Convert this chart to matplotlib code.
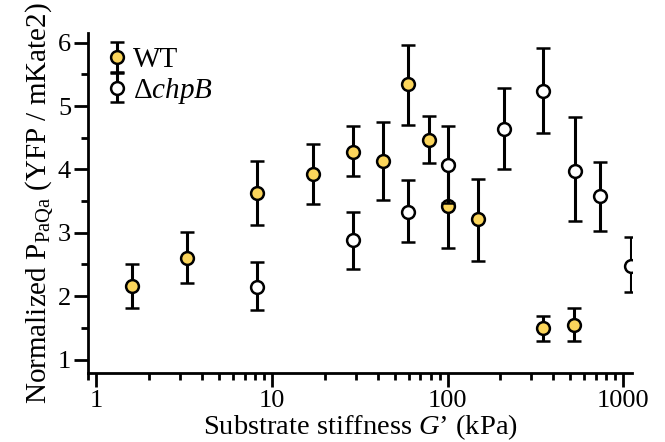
"""Normalized PaQa reporter vs substrate stiffness, WT vs chpB mutant."""
import matplotlib
matplotlib.use("Agg")
import matplotlib.pyplot as plt
from matplotlib.ticker import LogLocator, NullFormatter, MultipleLocator

plt.rcParams["font.family"] = ["Liberation Serif", "DejaVu Serif"]
plt.rcParams["mathtext.fontset"] = "custom"
plt.rcParams["mathtext.rm"] = "Liberation Serif"
plt.rcParams["mathtext.it"] = "Liberation Serif:italic"

# WT
wt_x = [1.6, 3.3, 8.2, 17.2, 28.8, 43, 59.7, 78.6, 100, 150, 350, 525]
wt_y = [2.16, 2.60, 3.63, 3.93, 4.28, 4.13, 5.35, 4.47, 3.43, 3.21, 1.49, 1.55]
wt_lo = [1.82, 2.21, 3.13, 3.46, 3.89, 3.51, 4.70, 4.10, 2.76, 2.55, 1.29, 1.29]
wt_hi = [2.51, 3.01, 4.14, 4.40, 4.68, 4.75, 5.97, 4.84, 4.10, 3.85, 1.69, 1.82]

# delta chpB
ko_x = [8.2, 28.8, 59.7, 100, 209, 350, 530, 736, 1105]
ko_y = [2.15, 2.88, 3.33, 4.07, 4.63, 5.23, 3.98, 3.58, 2.48]
ko_lo = [1.78, 2.43, 2.85, 3.47, 4.00, 4.57, 3.18, 3.03, 2.06]
ko_hi = [2.54, 3.33, 3.83, 4.68, 5.29, 5.91, 4.83, 4.12, 2.93]

YELLOW = "#FBD55B"

fig = plt.figure(figsize=(6.65, 4.42), dpi=100)
ax = fig.add_axes([0.132, 0.155, 0.819, 0.77])


def _err(y, lo, hi):
    return [[a - b for a, b in zip(y, lo)], [c - a for a, c in zip(y, hi)]]


style = dict(fmt="o", ms=9.2, mew=1.8, mec="black", ecolor="black",
             elinewidth=2.2, capsize=5, capthick=2.2)
ax.errorbar(wt_x, wt_y, yerr=_err(wt_y, wt_lo, wt_hi), mfc=YELLOW,
            label="WT", zorder=3, **style)
ax.errorbar(ko_x, ko_y, yerr=_err(ko_y, ko_lo, ko_hi), mfc="white",
            label="\u0394$\\mathit{chpB}$", zorder=4, **style)

ax.set_xscale("log")
ax.set_xlim(0.893, 1130)
ax.set_ylim(0.78, 6.15)
ax.xaxis.set_minor_locator(LogLocator(base=10, subs=range(2, 10)))
ax.xaxis.set_minor_formatter(NullFormatter())
ax.set_xticks([1, 10, 100, 1000], ["1", "10", "100", "1000"])
ax.yaxis.set_major_locator(MultipleLocator(1))
ax.yaxis.set_minor_locator(MultipleLocator(0.5))

for s in ("top", "right"):
    ax.spines[s].set_visible(False)
for s in ("left", "bottom"):
    ax.spines[s].set_linewidth(2)
ax.tick_params(which="major", length=10, width=2, labelsize=19, pad=2)
ax.tick_params(which="minor", length=5, width=2)

ax.set_xlabel("Substrate stiffness $G$\u2019 (kPa)", fontsize=20.5, labelpad=0)
ax.set_ylabel("Normalized P$_{\\mathrm{PaQa}}$ (YFP / mKate2)",
              fontsize=21, labelpad=2)

ax.legend(loc="upper left", bbox_to_anchor=(0.0, 1.02), frameon=False,
          fontsize=21, handlelength=0.6, handletextpad=0.25,
          labelspacing=0.1, borderaxespad=0.3)

fig.savefig("out.png", dpi=100)
